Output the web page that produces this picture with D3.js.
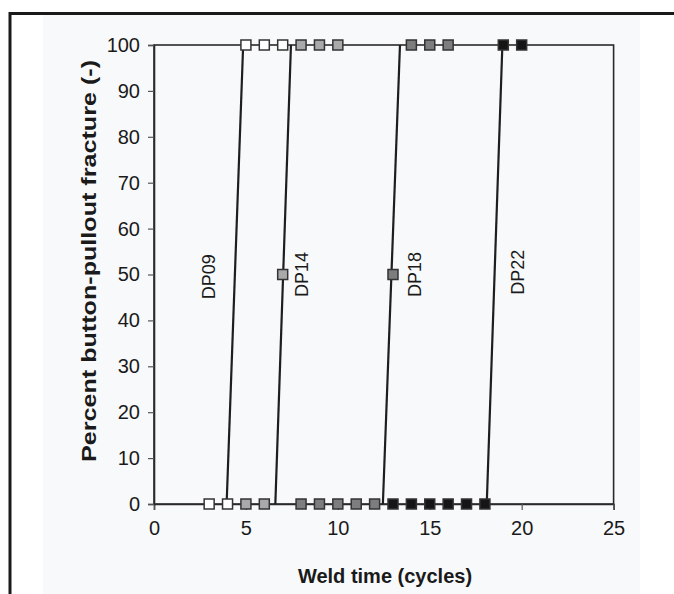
<!DOCTYPE html>
<html>
<head>
<meta charset="utf-8">
<script src="https://cdn.jsdelivr.net/npm/d3@7"></script>
<style>
  html, body { margin: 0; padding: 0; background: #ffffff; }
  svg { display: block; }
  text { font-family: "Liberation Sans", Arial, Helvetica, sans-serif; fill: #1a1a1a; }
</style>
</head>
<body>
<svg id="chart" width="674" height="594"></svg>
<script>
// Series: weld time (cycles) vs percent button-pullout fracture
const seriesNames = ["DP09", "DP14", "DP18", "DP22"];
const dp09Points = [[3, 0], [4, 0], [5, 100], [6, 100], [7, 100]];
const dp14Points = [[5, 0], [6, 0], [7, 50], [8, 100], [9, 100], [10, 100]];
const dp18Points = [[8, 0], [9, 0], [10, 0], [11, 0], [12, 0], [13, 50], [14, 100], [15, 100], [16, 100]];
const dp22Points = [[13, 0], [14, 0], [15, 0], [16, 0], [17, 0], [18, 0], [19, 100], [20, 100]];
const seriesFills = ["#ffffff", "#a9a9a9", "#7d7d7d", "#151515"];

// Transition lines: weld time where each fit line reaches 0 % and 100 %
const fitAtZero = [3.95, 6.6, 12.45, 18.1];
const fitAtHundred = [4.85, 7.45, 13.38, 18.95];

// Label anchors (weld time, percent)
const labelX = [3.0, 8.07, 14.2, 19.78];
const labelY = [49.5, 50, 50, 50.5];

const xTicks = [0, 5, 10, 15, 20, 25];
const yTicks = [0, 10, 20, 30, 40, 50, 60, 70, 80, 90, 100];

const svg = d3.select("#chart");

// outer figure frame (right/bottom run off the page)
svg.append("rect").attr("x", 43).attr("y", 15).attr("width", 597).attr("height", 579)
  .attr("fill", "#f8f9fb");
svg.append("path")
  .attr("d", "M10,600 L10,13.5 L680,13.5")
  .attr("fill", "none").attr("stroke", "#1a1a1a").attr("stroke-width", 3);

const x = d3.scaleLinear().domain([0, 25]).range([154, 613.6]);
const y = d3.scaleLinear().domain([0, 100]).range([504, 45]);

// plot-area box
svg.append("rect")
  .attr("x", x(0)).attr("y", y(100))
  .attr("width", x(25) - x(0)).attr("height", y(0) - y(100))
  .attr("fill", "none").attr("stroke", "#2a2a2a").attr("stroke-width", 1.6);

// axes
const xAxis = svg.append("g").attr("transform", `translate(0,${y(0)})`)
  .call(d3.axisBottom(x).tickValues(xTicks).tickSize(6).tickPadding(11).tickFormat(d3.format("d")));
const yAxis = svg.append("g").attr("transform", `translate(${x(0)},0)`)
  .call(d3.axisLeft(y).tickValues(yTicks).tickSize(6).tickPadding(8).tickFormat(d3.format("d")));
[xAxis, yAxis].forEach(g => {
  g.select(".domain").attr("stroke", "#2a2a2a").attr("stroke-width", 1.6);
  g.selectAll(".tick line").attr("stroke", "#555").attr("stroke-width", 1.2);
  g.selectAll(".tick text").style("font-size", "20px").attr("fill", "#1a1a1a")
    .style("font-family", "'Liberation Sans', Arial, sans-serif");
});

// fit lines
const fits = seriesNames.map((n, i) => ({ name: n, a: fitAtZero[i], b: fitAtHundred[i] }));
svg.append("g").selectAll("line").data(fits).join("line")
  .attr("x1", d => x(d.a)).attr("y1", y(0))
  .attr("x2", d => x(d.b)).attr("y2", y(100))
  .attr("stroke", "#1e1e1e").attr("stroke-width", 2.2);

// markers
const allPoints = [dp09Points, dp14Points, dp18Points, dp22Points];
const ms = 10;
allPoints.forEach((pts, i) => {
  svg.append("g").selectAll("rect").data(pts).join("rect")
    .attr("x", d => x(d[0]) - ms / 2).attr("y", d => y(d[1]) - ms / 2)
    .attr("width", ms).attr("height", ms)
    .attr("fill", seriesFills[i]).attr("stroke", "#333").attr("stroke-width", 1.5);
});

// series labels
svg.append("g").selectAll("text").data(seriesNames).join("text")
  .attr("transform", (d, i) => `translate(${x(labelX[i])},${y(labelY[i])}) rotate(-90)`)
  .attr("text-anchor", "middle").attr("dominant-baseline", "central")
  .style("font-size", "18px")
  .text(d => d);

// axis titles
svg.append("text")
  .attr("x", 385).attr("y", 583)
  .attr("text-anchor", "middle")
  .style("font-size", "20px").style("font-weight", "bold")
  .text("Weld time (cycles)");

svg.append("text")
  .attr("transform", "translate(96,261) rotate(-90)")
  .attr("text-anchor", "middle")
  .attr("textLength", 402).attr("lengthAdjust", "spacingAndGlyphs")
  .style("font-size", "20px").style("font-weight", "bold")
  .text("Percent button-pullout fracture (-)");
</script>
</body>
</html>
